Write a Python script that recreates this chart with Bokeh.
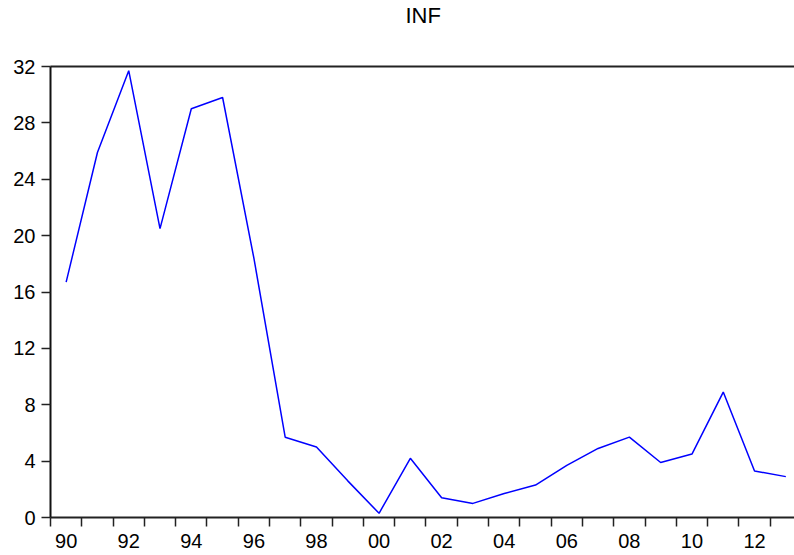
from bokeh.plotting import figure
from bokeh.models import FixedTicker, Range1d, Title, LinearAxis
from bokeh.embed import file_html
from bokeh.resources import INLINE

years = list(range(1990, 2014))
inf = [16.7, 25.9, 31.7, 20.5, 29.0, 29.8, 18.4, 5.7, 5.0, 2.6, 0.3, 4.2,
       1.4, 1.0, 1.7, 2.3, 3.7, 4.9, 5.7, 3.9, 4.5, 8.9, 3.3, 2.9]
y_ticks = [0, 4, 8, 12, 16, 20, 24, 28, 32]
x_label_years = list(range(1990, 2013, 2))
x_tick_labels = {y: f"{y % 100:02d}" for y in x_label_years}
title_text = "INF"

FONT = "Liberation Sans"

p = figure(width=794, height=555, output_backend="svg", toolbar_location=None,
           x_range=Range1d(1989.5, 2013.277), y_range=Range1d(0, 32),
           min_border_left=50, min_border_right=0, min_border_top=0,
           min_border_bottom=38)
p.title = Title(text=title_text, text_font=FONT, text_font_size="22px",
                text_font_style="normal", text_color="black", align="left",
                offset=355, standoff=0)
p.outline_line_color = None
p.grid.visible = False
p.background_fill_color = "white"
p.border_fill_color = "white"

p.line(years, inf, line_color="#0000FF", line_width=1.5)

# x axis: boundary ticks each year, labels every two years at mid-year
xa = p.below[0]
xa.ticker = FixedTicker(ticks=x_label_years,
                        minor_ticks=[y - 0.5 for y in years] + [years[-1] + 0.5])
xa.major_label_overrides = x_tick_labels
xa.major_tick_out = 0
xa.major_tick_in = 0
xa.minor_tick_out = 9
xa.minor_tick_in = 0
xa.minor_tick_line_color = "#222222"
xa.minor_tick_line_width = 1.5
xa.axis_line_color = "#222222"
xa.axis_line_width = 2
xa.major_label_standoff = 7
xa.major_label_text_font = FONT
xa.major_label_text_font_size = "20px"
xa.major_label_text_color = "black"

ya = p.left[0]
ya.ticker = FixedTicker(ticks=y_ticks, minor_ticks=[])
ya.major_tick_out = 9
ya.major_tick_in = 0
ya.major_tick_line_color = "#222222"
ya.major_tick_line_width = 1.5
ya.axis_line_color = "#111111"
ya.axis_line_width = 2
ya.major_label_standoff = 6
ya.major_label_text_font = FONT
ya.major_label_text_font_size = "20px"
ya.major_label_text_color = "black"

# top frame line, also providing the gap between title and plot
top_axis = LinearAxis(ticker=FixedTicker(ticks=[2000], minor_ticks=[]),
                      major_label_overrides={2000: ""},
                      major_tick_out=39, major_tick_in=0,
                      major_tick_line_color=None, minor_tick_line_color=None,
                      major_label_standoff=0, major_label_text_font_size="0px",
                      axis_line_color="#222222", axis_line_width=2)
p.add_layout(top_axis, "above")

open("out.html", "w").write(file_html(p, INLINE))
